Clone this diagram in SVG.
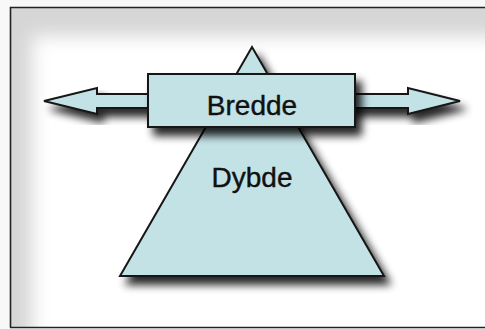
<svg xmlns="http://www.w3.org/2000/svg" width="485" height="329" viewBox="0 0 485 329">
<defs>
<filter id="sh" x="-20%" y="-20%" width="150%" height="160%">
<feGaussianBlur in="SourceAlpha" stdDeviation="4"/>
<feOffset dx="6" dy="8" result="b"/>
<feComponentTransfer><feFuncA type="linear" slope="0.85"/></feComponentTransfer>
<feMerge><feMergeNode/><feMergeNode in="SourceGraphic"/></feMerge>
</filter>
<filter id="soft" x="-10%" y="-10%" width="120%" height="120%">
<feGaussianBlur stdDeviation="9"/>
</filter>
<clipPath id="fc"><rect x="10" y="7" width="480" height="320"/></clipPath>
<style>
.s{fill:#c3e2e6;stroke:#151515;stroke-width:2;stroke-linejoin:miter}
.t{font-family:"Liberation Sans",Arial,sans-serif;font-size:28px;fill:#111;stroke:#111;stroke-width:0.4;text-anchor:middle}
</style>
</defs>
<rect x="0" y="0" width="485" height="329" fill="#f8f8f8"/>
<g clip-path="url(#fc)">
<rect x="10" y="7" width="480" height="322" fill="#d6d6d6"/>
<rect x="32" y="36" width="500" height="330" fill="#ffffff" filter="url(#soft)"/>
</g>
<path d="M10.5 327.5 V7.5 H485" fill="none" stroke="#222" stroke-width="1.6"/>
<line x1="10" y1="327.5" x2="485" y2="327.5" stroke="#222" stroke-width="1.6"/>
<g id="dybde">
<polygon class="s" points="252,47 384,276 120,276" filter="url(#sh)"/>
<text class="t" x="252" y="187">Dybde</text>
</g>
<g id="connectors" filter="url(#sh)">
<polygon class="s" points="44,101 97,88 97,94 408,94 408,88 460,101 408,114 408,108 97,108 97,114"/>
</g>
<g id="bredde">
<rect class="s" x="148" y="74" width="207" height="53" filter="url(#sh)"/>
<text class="t" x="252" y="115">Bredde</text>
</g>
</svg>
